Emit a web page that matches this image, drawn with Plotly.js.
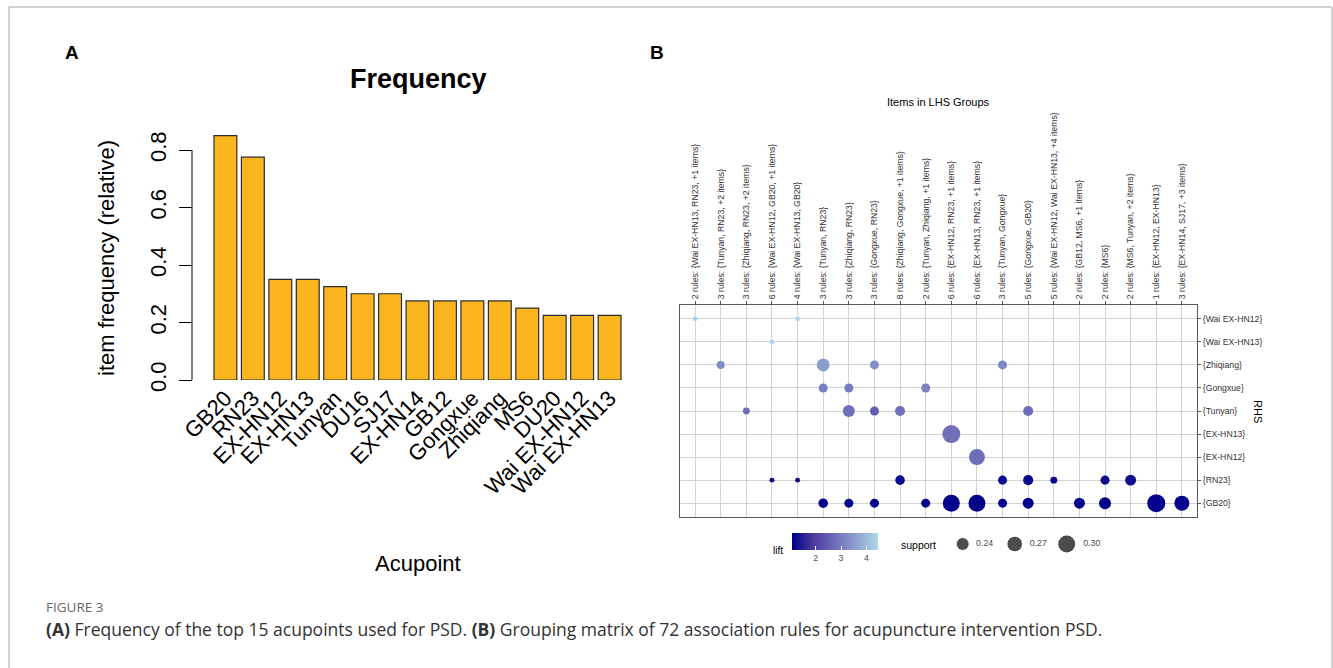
<!DOCTYPE html>
<html><head><meta charset="utf-8">
<script src="https://cdn.plot.ly/plotly-3.0.1.min.js"></script>
<style>html,body{margin:0;padding:0;background:#fff}#chart{width:1333px;height:668px}</style>
</head><body><div id="chart"></div>
<script>
// ---------- Panel A data ----------
const acupoints = ["GB20","RN23","EX-HN12","EX-HN13","Tunyan","DU16","SJ17","EX-HN14","GB12","Gongxue","Zhiqiang","MS6","DU20","Wai EX-HN12","Wai EX-HN13"];
const frequency = [0.85,0.775,0.35,0.35,0.325,0.30,0.30,0.275,0.275,0.275,0.275,0.25,0.225,0.225,0.225];
const freqTickVals = [0,0.2,0.4,0.6,0.8];
const freqTickText = ["0.0","0.2","0.4","0.6","0.8"];

// ---------- Panel B data ----------
const lhsGroups = [
  "2 rules: {Wai EX-HN13, RN23, +1 items}",
  "3 rules: {Tunyan, RN23, +2 items}",
  "3 rules: {Zhiqiang, RN23, +2 items}",
  "6 rules: {Wai EX-HN12, GB20, +1 items}",
  "4 rules: {Wai EX-HN13, GB20}",
  "3 rules: {Tunyan, RN23}",
  "3 rules: {Zhiqiang, RN23}",
  "3 rules: {Gongxue, RN23}",
  "8 rules: {Zhiqiang, Gongxue, +1 items}",
  "2 rules: {Tunyan, Zhiqiang, +1 items}",
  "6 rules: {EX-HN12, RN23, +1 items}",
  "6 rules: {EX-HN13, RN23, +1 items}",
  "3 rules: {Tunyan, Gongxue}",
  "5 rules: {Gongxue, GB20}",
  "5 rules: {Wai EX-HN12, Wai EX-HN13, +4 items}",
  "2 rules: {GB12, MS6, +1 items}",
  "2 rules: {MS6}",
  "2 rules: {MS6, Tunyan, +2 items}",
  "1 rules: {EX-HN12, EX-HN13}",
  "3 rules: {EX-HN14, SJ17, +3 items}"
];
const rhsItems = ["{Wai EX-HN12}","{Wai EX-HN13}","{Zhiqiang}","{Gongxue}","{Tunyan}","{EX-HN13}","{EX-HN12}","{RN23}","{GB20}"];

// one entry per bubble: LHS group index, RHS item index, lift, support
const ruleLhs     = [0,4, 3, 1,5,7,12, 5,6,9, 2,6,7,8,13, 10, 11, 3,4,8,12,13,14,16,17, 5,6,7,9,10,11,12,13,15,16,18,19];
const ruleRhs     = [0,0, 1, 2,2,2,2,  3,3,3, 4,4,4,4,4,  5,  6,  7,7,7,7,7,7,7,7,    8,8,8,8,8,8,8,8,8,8,8,8];
const ruleLift    = [4.40,4.46, 4.42, 3.30,3.55,3.30,3.20, 3.05,3.00,3.10, 2.75,2.80,2.50,2.80,2.75, 2.80, 2.75,
                     1.20,1.22,1.25,1.20,1.18,1.22,1.20,1.25, 1.10,1.08,1.10,1.12,1.08,1.06,1.10,1.08,1.12,1.10,1.10,1.12];
const ruleSupport = [0.190,0.190, 0.190, 0.207,0.250,0.214,0.214, 0.214,0.214,0.214, 0.200,0.240,0.214,0.222,0.222, 0.315, 0.287,
                     0.190,0.190,0.218,0.214,0.222,0.200,0.214,0.230, 0.218,0.214,0.214,0.214,0.300,0.300,0.214,0.230,0.230,0.240,0.315,0.274];
const supportBreaks = [0.24,0.27,0.30];
const liftTicks = [2,3,4];

// ---------- helpers ----------
const W = 1333, H = 668;
const px = x => x / W;
const py = y => 1 - y / H;
const supportToDiameter = s => Math.sqrt(Math.max(9, 144 + (s - 0.24) * 2400));
const liftScale = [
  [0, "#00008B"], [0.25, "rgb(77,58,159)"], [0.5, "rgb(111,109,185)"],
  [0.75, "rgb(143,161,208)"], [1, "#ADD8E6"]
];
const FONT = "Liberation Sans, Arial, sans-serif";
const CAP = "Open Sans, sans-serif";

function label(text, x, y, size, opts) {
  return Object.assign({text: text, x: px(x), y: py(y), xref: "paper", yref: "paper",
    xanchor: "center", yanchor: "middle", showarrow: false,
    font: {family: FONT, size: size, color: "#000"}}, opts || {});
}

const traces = [
  {
    type: "bar", x: acupoints, y: frequency, xaxis: "x", yaxis: "y",
    marker: {color: "#FBB61F", line: {color: "#2b2b2b", width: 1.2}},
    hoverinfo: "x+y"
  },
  {
    type: "scatter", mode: "markers", xaxis: "x2", yaxis: "y2",
    x: ruleLhs.map(i => lhsGroups[i]), y: ruleRhs.map(i => rhsItems[i]),
    marker: {
      size: ruleSupport.map(supportToDiameter), color: ruleLift, colorscale: liftScale,
      line: {width: 0}, opacity: 1, showscale: true,
      colorbar: {
        orientation: "h", x: px(835), xanchor: "center", y: py(533), yanchor: "top",
        len: 86, lenmode: "pixels", thickness: 17, thicknessmode: "pixels",
        xpad: 0, ypad: 0, outlinewidth: 0,
        tickvals: liftTicks, ticks: "inside", ticklen: 4, tickcolor: "#ffffff", tickwidth: 1,
        tickfont: {family: FONT, size: 8.8, color: "#4d4d4d"},
        title: {text: ""}
      }
    }
  },
  {
    type: "scatter", mode: "markers+text", xaxis: "x3", yaxis: "y3",
    x: supportBreaks.map((v, i) => i), y: supportBreaks.map(() => 0),
    text: supportBreaks.map(v => "  " + v.toFixed(2)), textposition: "middle right",
    textfont: {family: FONT, size: 8.8, color: "#4d4d4d"}, cliponaxis: false,
    marker: {size: supportBreaks.map(supportToDiameter), color: "#000000", line: {width: 0}},
    hoverinfo: "skip"
  }
];

const layout = {
  width: W, height: H, margin: {l: 0, r: 0, t: 0, b: 0, autoexpand: false},
  paper_bgcolor: "#ffffff", plot_bgcolor: "#ffffff", showlegend: false,
  font: {family: FONT, color: "#000"},
  bargap: 0.1667,
  xaxis: {
    domain: [px(211.7), px(623.3)], range: [-0.5, 14.5], anchor: "y", automargin: false,
    showline: false, showgrid: false, zeroline: false, ticks: "",
    tickangle: -45, tickfont: {family: FONT, size: 22, color: "#000"}, fixedrange: true
  },
  yaxis: {
    domain: [py(380), py(121.25)], range: [0, 0.9], anchor: "free", position: px(192), automargin: false,
    showline: false, showgrid: false, zeroline: false,
    tickvals: freqTickVals, ticktext: freqTickText, ticks: "outside", ticklen: 13, tickcolor: "#000", tickwidth: 1,
    tickangle: -90, ticklabelstandoff: 4, tickfont: {family: FONT, size: 22, color: "#000"}, fixedrange: true
  },
  xaxis2: {
    domain: [px(680), px(1197)], anchor: "y2", side: "top", type: "category", automargin: false,
    categoryorder: "array", categoryarray: lhsGroups, range: [-0.59, 19.59],
    showgrid: true, gridcolor: "#d3d3d3", gridwidth: 1, zeroline: false,
    showline: true, mirror: true, linecolor: "#5a5a5a", linewidth: 1,
    ticks: "outside", ticklen: 3, tickcolor: "#5a5a5a", tickangle: -90,
    tickfont: {family: FONT, size: 8.7, color: "#333"}, fixedrange: true
  },
  yaxis2: {
    domain: [py(517), py(305)], anchor: "x2", side: "right", type: "category", automargin: false,
    categoryorder: "array", categoryarray: rhsItems, range: [8.6, -0.6],
    showgrid: true, gridcolor: "#d3d3d3", gridwidth: 1, zeroline: false,
    showline: true, mirror: true, linecolor: "#5a5a5a", linewidth: 1,
    ticks: "outside", ticklen: 3, tickcolor: "#5a5a5a",
    tickfont: {family: FONT, size: 8.7, color: "#333"}, fixedrange: true
  },
  xaxis3: {domain: [px(936.7), px(1092.7)], range: [-0.5, 2.5], anchor: "y3", visible: false, fixedrange: true},
  yaxis3: {domain: [py(556), py(532)], range: [-1, 1], anchor: "x3", visible: false, fixedrange: true},
  shapes: [
    {type: "line", xref: "paper", yref: "paper", x0: px(9), x1: px(9), y0: py(7), y1: 0, line: {color: "#c4c4c4", width: 1.5}},
    {type: "line", xref: "paper", yref: "paper", x0: px(9), x1: px(1332), y0: py(7), y1: py(7), line: {color: "#c4c4c4", width: 1.5}},
    {type: "line", xref: "paper", yref: "paper", x0: px(1332), x1: px(1332), y0: py(7), y1: 0, line: {color: "#c4c4c4", width: 1.5}},
    {type: "line", xref: "paper", yref: "y", x0: px(192), x1: px(192), y0: freqTickVals[0], y1: freqTickVals[freqTickVals.length - 1], line: {color: "#000", width: 1}}
  ],
  annotations: [
    label("<b>A</b>", 72, 52, 19),
    label("<b>B</b>", 657, 52, 19),
    label("<b>Frequency</b>", 418, 79, 27),
    label("item frequency (relative)", 106, 258, 22, {textangle: -90}),
    label("Acupoint", 418, 563, 22),
    label("Items in LHS Groups", 938, 102, 11),
    label("RHS", 1258, 411, 11, {textangle: 90}),
    label("lift", 778, 550, 10),
    label("support", 918, 545, 10.5),
    label("FIGURE 3", 44, 607, 13.5, {xanchor: "left", font: {family: CAP, size: 13.5, color: "#666"}}),
    label("<b>(A)</b> Frequency of the top 15 acupoints used for PSD. <b>(B)</b> Grouping matrix of 72 association rules for acupuncture intervention PSD.",
      44, 629, 17.5, {xanchor: "left", font: {family: CAP, size: 17.5, color: "#333"}})
  ]
};

Plotly.newPlot("chart", traces, layout, {displayModeBar: false, responsive: false});
</script>
</body></html>
